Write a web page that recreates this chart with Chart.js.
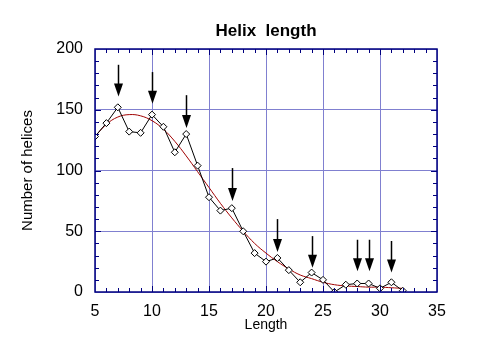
<!DOCTYPE html>
<html lang="en">
<head>
  <meta charset="UTF-8">
  <title>Helix length</title>
  <script src="https://cdn.jsdelivr.net/npm/chart.js"></script>
  <style>
    body {
      margin: 0;
      background: #fff;
    }
  </style>
</head>
<body>

<canvas id="myChart" width="503" height="359"></canvas>

<script>
  // Data
  const lengths = [5, 6, 7, 8, 9, 10, 11, 12, 13, 14, 15, 16, 17, 18, 19, 20, 21, 22, 23, 24, 25, 26, 27, 28, 29, 30, 31, 32];
  const helices = [128, 139, 152, 132, 131, 146, 136, 115, 130, 104, 78, 67, 69, 50, 32, 25, 28, 18, 8, 16, 10, 0, 6, 7, 7, 3, 8, 1];
  const fitted = [128, 138, 144, 146, 145, 141, 134, 124, 112, 99, 86, 73, 61, 50, 40, 32, 25, 19, 14, 11, 8, 6, 5, 4.5, 4, 4, 3.5, 3];

  // arrows marking peaks: x, top of shaft, tip of head (in data units)
  const arrowX = [7, 10, 13, 17, 21, 24, 28, 29, 31];
  const arrowTop = [187, 181, 162, 102, 60, 46, 43, 43, 42];
  const arrowTip = [161, 155, 135, 75, 33, 20, 17, 17, 16];

  const xTicks = [5, 10, 15, 20, 25, 30, 35];
  const yTicks = [0, 50, 100, 150, 200];

  Chart.defaults.font.family = '"Liberation Sans", Arial, sans-serif';
  Chart.defaults.color = '#000';

  const navy = '#000080';
  const gridBlue = '#8080d0';

  // frame, inward minor ticks and arrows
  const decorations = {
    id: 'decorations',
    afterDatasetsDraw(chart) {
      const ctx = chart.ctx;
      const a = chart.chartArea;
      const x = chart.scales.x;
      const y = chart.scales.y;

      ctx.save();
      ctx.strokeStyle = navy;
      ctx.lineWidth = 1.5;
      ctx.strokeRect(a.left, a.top, a.right - a.left, a.bottom - a.top);

      ctx.lineWidth = 1;
      ctx.beginPath();
      for (let v = 6; v < 35; v++) {
        const px = Math.round(x.getPixelForValue(v)) + 0.5;
        const len = v % 5 === 0 ? 6 : 4;
        ctx.moveTo(px, a.bottom); ctx.lineTo(px, a.bottom - len);
        ctx.moveTo(px, a.top); ctx.lineTo(px, a.top + len);
      }
      for (let v = 10; v < 200; v += 10) {
        const py = Math.round(y.getPixelForValue(v)) + 0.5;
        const len = v % 50 === 0 ? 6 : 4;
        ctx.moveTo(a.left, py); ctx.lineTo(a.left + len, py);
        ctx.moveTo(a.right, py); ctx.lineTo(a.right - len, py);
      }
      ctx.stroke();

      ctx.strokeStyle = '#000';
      ctx.fillStyle = '#000';
      arrowX.forEach((v, i) => {
        const px = Math.round(x.getPixelForValue(v)) + 0.5;
        const top = y.getPixelForValue(arrowTop[i]);
        const tip = y.getPixelForValue(arrowTip[i]);
        ctx.lineWidth = 1.5;
        ctx.beginPath();
        ctx.moveTo(px, top);
        ctx.lineTo(px, tip - 8);
        ctx.stroke();
        ctx.beginPath();
        ctx.moveTo(px - 4.5, tip - 13);
        ctx.lineTo(px + 4.5, tip - 13);
        ctx.lineTo(px, tip);
        ctx.closePath();
        ctx.fill();
      });
      ctx.restore();
    }
  };

  const ctx = document.getElementById('myChart').getContext('2d');
  const myChart = new Chart(ctx, {
    type: 'line',
    data: {
      labels: lengths,
      datasets: [{
        label: 'Fit',
        data: lengths.map((v, i) => ({ x: v, y: fitted[i] })),
        borderColor: '#a00000',
        borderWidth: 1,
        pointRadius: 0,
        tension: 0.4,
        order: 2
      }, {
        label: 'Helices',
        data: lengths.map((v, i) => ({ x: v, y: helices[i] })),
        borderColor: '#000',
        borderWidth: 1,
        pointStyle: 'rectRot',
        pointRadius: 3.5,
        pointBackgroundColor: '#fff',
        pointBorderColor: '#000',
        pointBorderWidth: 1,
        tension: 0,
        order: 1
      }]
    },
    options: {
      responsive: false,
      animation: false,
      devicePixelRatio: 1,
      layout: { padding: { left: 0, right: 66, top: 0, bottom: 0 } },
      plugins: {
        legend: { display: false },
        tooltip: { enabled: false }
      },
      scales: {
        x: {
          type: 'linear',
          min: 5,
          max: 35,
          afterBuildTicks: s => { s.ticks = xTicks.map(v => ({ value: v })); },
          ticks: { font: { size: 16 }, padding: 10, maxRotation: 0 },
          grid: { color: gridBlue, drawTicks: false },
          border: { display: false },
          title: { display: true, text: 'Length', font: { size: 14 }, padding: { top: 0, bottom: 25 } },
          afterFit: s => { s.height = 67; }
        },
        y: {
          min: 0,
          max: 200,
          afterBuildTicks: s => { s.ticks = yTicks.map(v => ({ value: v })); },
          ticks: { font: { size: 16 }, padding: 12 },
          grid: { color: gridBlue, drawTicks: false },
          border: { display: false },
          title: { display: true, text: 'Number of helices', font: { size: 15 }, padding: { top: 19, bottom: 0 } },
          afterFit: s => { s.width = 95; }
        },
        top: {
          type: 'linear',
          position: 'top',
          min: 5,
          max: 35,
          ticks: { display: false },
          grid: { display: false, drawTicks: false },
          border: { display: false },
          title: { display: true, text: 'Helix  length', font: { size: 17, weight: 'bold' }, padding: { top: 21, bottom: 0 } },
          afterFit: s => { s.height = 49; }
        }
      }
    },
    plugins: [decorations]
  });
</script>

</body>
</html>
